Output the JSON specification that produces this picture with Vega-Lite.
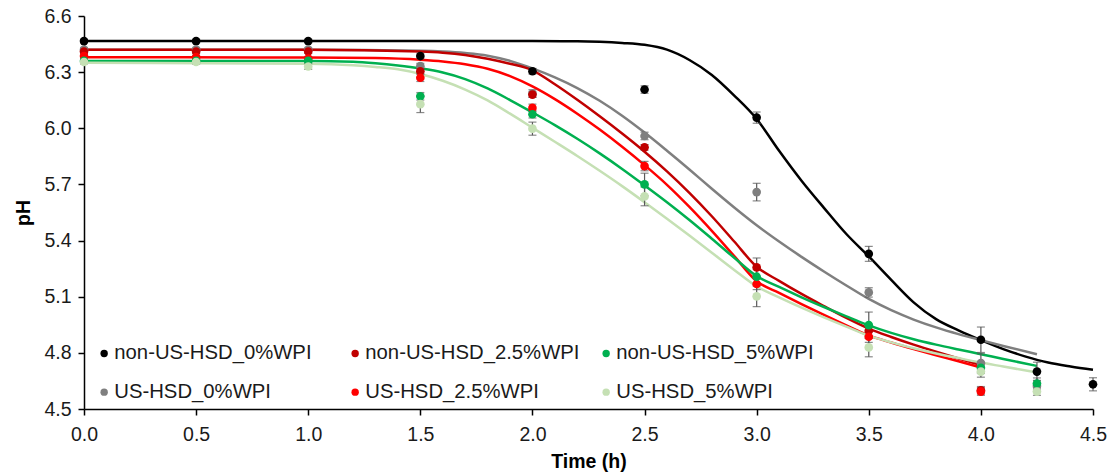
{
  "$schema": "https://vega.github.io/schema/vega-lite/v6.json",
  "width": 1009,
  "height": 393,
  "autosize": {"type": "none"},
  "padding": {"left": 84, "top": 16, "right": 19, "bottom": 66},
  "config": {
    "view": {"stroke": null},
    "font": "Liberation Sans",
    "axis": {
      "grid": false,
      "domainColor": "#000000",
      "domainWidth": 1.5,
      "tickColor": "#000000",
      "tickWidth": 1.5,
      "tickSize": 6,
      "labelFlush": false,
      "labelFont": "Liberation Sans",
      "labelFontSize": 19.5,
      "labelColor": "#1a1a1a",
      "titleFont": "Liberation Sans",
      "titleFontSize": 19.5,
      "titleFontWeight": "bold",
      "titleColor": "#000000"
    }
  },
  "datasets": {
    "pts": [
      {"series": "non-US-HSD_0%WPI", "t": 0, "ph": 6.466, "err": 0.01},
      {"series": "non-US-HSD_0%WPI", "t": 0.5, "ph": 6.466, "err": 0.01},
      {"series": "non-US-HSD_0%WPI", "t": 1.0, "ph": 6.466, "err": 0.01},
      {"series": "non-US-HSD_0%WPI", "t": 1.5, "ph": 6.386, "err": 0.015},
      {"series": "non-US-HSD_0%WPI", "t": 2.0, "ph": 6.305, "err": 0.015},
      {"series": "non-US-HSD_0%WPI", "t": 2.5, "ph": 6.207, "err": 0.02},
      {"series": "non-US-HSD_0%WPI", "t": 3.0, "ph": 6.057, "err": 0.03},
      {"series": "non-US-HSD_0%WPI", "t": 3.5, "ph": 5.329, "err": 0.04},
      {"series": "non-US-HSD_0%WPI", "t": 4.0, "ph": 4.87, "err": 0.068},
      {"series": "non-US-HSD_0%WPI", "t": 4.25, "ph": 4.70, "err": 0.05},
      {"series": "non-US-HSD_0%WPI", "t": 4.5, "ph": 4.632, "err": 0.035},
      {"series": "US-HSD_0%WPI", "t": 0, "ph": 6.42, "err": 0.01},
      {"series": "US-HSD_0%WPI", "t": 0.5, "ph": 6.42, "err": 0.01},
      {"series": "US-HSD_0%WPI", "t": 1.0, "ph": 6.42, "err": 0.01},
      {"series": "US-HSD_0%WPI", "t": 1.5, "ph": 6.332, "err": 0.015},
      {"series": "US-HSD_0%WPI", "t": 2.0, "ph": 6.186, "err": 0.02},
      {"series": "US-HSD_0%WPI", "t": 2.5, "ph": 5.959, "err": 0.02},
      {"series": "US-HSD_0%WPI", "t": 3.0, "ph": 5.659, "err": 0.047},
      {"series": "US-HSD_0%WPI", "t": 3.5, "ph": 5.123, "err": 0.025},
      {"series": "US-HSD_0%WPI", "t": 4.0, "ph": 4.745, "err": 0.05},
      {"series": "US-HSD_0%WPI", "t": 4.25, "ph": 4.623, "err": 0.03},
      {"series": "non-US-HSD_2.5%WPI", "t": 0, "ph": 6.41, "err": 0.01},
      {"series": "non-US-HSD_2.5%WPI", "t": 0.5, "ph": 6.41, "err": 0.01},
      {"series": "non-US-HSD_2.5%WPI", "t": 1.0, "ph": 6.41, "err": 0.01},
      {"series": "non-US-HSD_2.5%WPI", "t": 1.5, "ph": 6.305, "err": 0.015},
      {"series": "non-US-HSD_2.5%WPI", "t": 2.0, "ph": 6.18, "err": 0.015},
      {"series": "non-US-HSD_2.5%WPI", "t": 2.5, "ph": 5.898, "err": 0.015},
      {"series": "non-US-HSD_2.5%WPI", "t": 3.0, "ph": 5.257, "err": 0.05},
      {"series": "non-US-HSD_2.5%WPI", "t": 3.5, "ph": 4.918, "err": 0.03},
      {"series": "non-US-HSD_2.5%WPI", "t": 4.0, "ph": 4.60, "err": 0.02},
      {"series": "US-HSD_2.5%WPI", "t": 0, "ph": 6.386, "err": 0.01},
      {"series": "US-HSD_2.5%WPI", "t": 0.5, "ph": 6.38, "err": 0.01},
      {"series": "US-HSD_2.5%WPI", "t": 1.0, "ph": 6.373, "err": 0.01},
      {"series": "US-HSD_2.5%WPI", "t": 1.5, "ph": 6.27, "err": 0.02},
      {"series": "US-HSD_2.5%WPI", "t": 2.0, "ph": 6.109, "err": 0.02},
      {"series": "US-HSD_2.5%WPI", "t": 2.5, "ph": 5.798, "err": 0.025},
      {"series": "US-HSD_2.5%WPI", "t": 3.0, "ph": 5.168, "err": 0.03},
      {"series": "US-HSD_2.5%WPI", "t": 3.5, "ph": 4.886, "err": 0.03},
      {"series": "US-HSD_2.5%WPI", "t": 4.0, "ph": 4.593, "err": 0.02},
      {"series": "non-US-HSD_5%WPI", "t": 0, "ph": 6.36, "err": 0.01},
      {"series": "non-US-HSD_5%WPI", "t": 0.5, "ph": 6.36, "err": 0.01},
      {"series": "non-US-HSD_5%WPI", "t": 1.0, "ph": 6.36, "err": 0.01},
      {"series": "non-US-HSD_5%WPI", "t": 1.5, "ph": 6.171, "err": 0.02},
      {"series": "non-US-HSD_5%WPI", "t": 2.0, "ph": 6.075, "err": 0.02},
      {"series": "non-US-HSD_5%WPI", "t": 2.5, "ph": 5.70, "err": 0.06},
      {"series": "non-US-HSD_5%WPI", "t": 3.0, "ph": 5.207, "err": 0.04},
      {"series": "non-US-HSD_5%WPI", "t": 3.5, "ph": 4.948, "err": 0.07},
      {"series": "non-US-HSD_5%WPI", "t": 4.0, "ph": 4.72, "err": 0.03},
      {"series": "non-US-HSD_5%WPI", "t": 4.25, "ph": 4.636, "err": 0.03},
      {"series": "US-HSD_5%WPI", "t": 0, "ph": 6.354, "err": 0.01},
      {"series": "US-HSD_5%WPI", "t": 0.5, "ph": 6.354, "err": 0.01},
      {"series": "US-HSD_5%WPI", "t": 1.0, "ph": 6.33, "err": 0.015},
      {"series": "US-HSD_5%WPI", "t": 1.5, "ph": 6.129, "err": 0.045},
      {"series": "US-HSD_5%WPI", "t": 2.0, "ph": 5.998, "err": 0.035},
      {"series": "US-HSD_5%WPI", "t": 2.5, "ph": 5.636, "err": 0.05},
      {"series": "US-HSD_5%WPI", "t": 3.0, "ph": 5.102, "err": 0.055},
      {"series": "US-HSD_5%WPI", "t": 3.5, "ph": 4.829, "err": 0.05},
      {"series": "US-HSD_5%WPI", "t": 4.0, "ph": 4.70, "err": 0.03},
      {"series": "US-HSD_5%WPI", "t": 4.25, "ph": 4.593, "err": 0.02}
    ],
    "fit": [
      {"series": "non-US-HSD_0%WPI", "t": 0, "ph": 6.466},
      {"series": "non-US-HSD_0%WPI", "t": 1.0, "ph": 6.466},
      {"series": "non-US-HSD_0%WPI", "t": 2.0, "ph": 6.466},
      {"series": "non-US-HSD_0%WPI", "t": 2.2, "ph": 6.465},
      {"series": "non-US-HSD_0%WPI", "t": 2.3, "ph": 6.462},
      {"series": "non-US-HSD_0%WPI", "t": 2.4, "ph": 6.456},
      {"series": "non-US-HSD_0%WPI", "t": 2.5, "ph": 6.446},
      {"series": "non-US-HSD_0%WPI", "t": 2.6, "ph": 6.42},
      {"series": "non-US-HSD_0%WPI", "t": 2.7, "ph": 6.365},
      {"series": "non-US-HSD_0%WPI", "t": 2.8, "ph": 6.285},
      {"series": "non-US-HSD_0%WPI", "t": 2.9, "ph": 6.175},
      {"series": "non-US-HSD_0%WPI", "t": 3.0, "ph": 6.05},
      {"series": "non-US-HSD_0%WPI", "t": 3.1, "ph": 5.88},
      {"series": "non-US-HSD_0%WPI", "t": 3.2, "ph": 5.72},
      {"series": "non-US-HSD_0%WPI", "t": 3.3, "ph": 5.575},
      {"series": "non-US-HSD_0%WPI", "t": 3.4, "ph": 5.435},
      {"series": "non-US-HSD_0%WPI", "t": 3.5, "ph": 5.315},
      {"series": "non-US-HSD_0%WPI", "t": 3.6, "ph": 5.19},
      {"series": "non-US-HSD_0%WPI", "t": 3.7, "ph": 5.07},
      {"series": "non-US-HSD_0%WPI", "t": 3.8, "ph": 4.98},
      {"series": "non-US-HSD_0%WPI", "t": 3.9, "ph": 4.92},
      {"series": "non-US-HSD_0%WPI", "t": 4.0, "ph": 4.868},
      {"series": "non-US-HSD_0%WPI", "t": 4.1, "ph": 4.82},
      {"series": "non-US-HSD_0%WPI", "t": 4.2, "ph": 4.78},
      {"series": "non-US-HSD_0%WPI", "t": 4.3, "ph": 4.748},
      {"series": "non-US-HSD_0%WPI", "t": 4.4, "ph": 4.727},
      {"series": "non-US-HSD_0%WPI", "t": 4.5, "ph": 4.71},
      {"series": "US-HSD_0%WPI", "t": 0, "ph": 6.42},
      {"series": "US-HSD_0%WPI", "t": 1.0, "ph": 6.42},
      {"series": "US-HSD_0%WPI", "t": 1.5, "ph": 6.414},
      {"series": "US-HSD_0%WPI", "t": 1.6, "ph": 6.41},
      {"series": "US-HSD_0%WPI", "t": 1.7, "ph": 6.402},
      {"series": "US-HSD_0%WPI", "t": 1.8, "ph": 6.388},
      {"series": "US-HSD_0%WPI", "t": 1.9, "ph": 6.36},
      {"series": "US-HSD_0%WPI", "t": 2.0, "ph": 6.32},
      {"series": "US-HSD_0%WPI", "t": 2.1, "ph": 6.272},
      {"series": "US-HSD_0%WPI", "t": 2.2, "ph": 6.215},
      {"series": "US-HSD_0%WPI", "t": 2.3, "ph": 6.147},
      {"series": "US-HSD_0%WPI", "t": 2.4, "ph": 6.067},
      {"series": "US-HSD_0%WPI", "t": 2.5, "ph": 5.977},
      {"series": "US-HSD_0%WPI", "t": 2.6, "ph": 5.88},
      {"series": "US-HSD_0%WPI", "t": 2.7, "ph": 5.78},
      {"series": "US-HSD_0%WPI", "t": 2.8, "ph": 5.677},
      {"series": "US-HSD_0%WPI", "t": 2.9, "ph": 5.577},
      {"series": "US-HSD_0%WPI", "t": 3.0, "ph": 5.482},
      {"series": "US-HSD_0%WPI", "t": 3.1, "ph": 5.395},
      {"series": "US-HSD_0%WPI", "t": 3.2, "ph": 5.313},
      {"series": "US-HSD_0%WPI", "t": 3.3, "ph": 5.235},
      {"series": "US-HSD_0%WPI", "t": 3.4, "ph": 5.16},
      {"series": "US-HSD_0%WPI", "t": 3.5, "ph": 5.088},
      {"series": "US-HSD_0%WPI", "t": 3.6, "ph": 5.028},
      {"series": "US-HSD_0%WPI", "t": 3.7, "ph": 4.978},
      {"series": "US-HSD_0%WPI", "t": 3.8, "ph": 4.936},
      {"series": "US-HSD_0%WPI", "t": 3.9, "ph": 4.90},
      {"series": "US-HSD_0%WPI", "t": 4.0, "ph": 4.868},
      {"series": "US-HSD_0%WPI", "t": 4.1, "ph": 4.837},
      {"series": "US-HSD_0%WPI", "t": 4.25, "ph": 4.793},
      {"series": "non-US-HSD_2.5%WPI", "t": 0, "ph": 6.42},
      {"series": "non-US-HSD_2.5%WPI", "t": 1.0, "ph": 6.42},
      {"series": "non-US-HSD_2.5%WPI", "t": 1.5, "ph": 6.41},
      {"series": "non-US-HSD_2.5%WPI", "t": 1.6, "ph": 6.404},
      {"series": "non-US-HSD_2.5%WPI", "t": 1.7, "ph": 6.392},
      {"series": "non-US-HSD_2.5%WPI", "t": 1.8, "ph": 6.372},
      {"series": "non-US-HSD_2.5%WPI", "t": 1.9, "ph": 6.345},
      {"series": "non-US-HSD_2.5%WPI", "t": 2.0, "ph": 6.31},
      {"series": "non-US-HSD_2.5%WPI", "t": 2.1, "ph": 6.235},
      {"series": "non-US-HSD_2.5%WPI", "t": 2.2, "ph": 6.152},
      {"series": "non-US-HSD_2.5%WPI", "t": 2.3, "ph": 6.064},
      {"series": "non-US-HSD_2.5%WPI", "t": 2.4, "ph": 5.972},
      {"series": "non-US-HSD_2.5%WPI", "t": 2.5, "ph": 5.875},
      {"series": "non-US-HSD_2.5%WPI", "t": 2.6, "ph": 5.77},
      {"series": "non-US-HSD_2.5%WPI", "t": 2.7, "ph": 5.655},
      {"series": "non-US-HSD_2.5%WPI", "t": 2.8, "ph": 5.53},
      {"series": "non-US-HSD_2.5%WPI", "t": 2.9, "ph": 5.395},
      {"series": "non-US-HSD_2.5%WPI", "t": 3.0, "ph": 5.26},
      {"series": "non-US-HSD_2.5%WPI", "t": 3.1, "ph": 5.185},
      {"series": "non-US-HSD_2.5%WPI", "t": 3.2, "ph": 5.115},
      {"series": "non-US-HSD_2.5%WPI", "t": 3.3, "ph": 5.05},
      {"series": "non-US-HSD_2.5%WPI", "t": 3.4, "ph": 4.987},
      {"series": "non-US-HSD_2.5%WPI", "t": 3.5, "ph": 4.93},
      {"series": "non-US-HSD_2.5%WPI", "t": 3.6, "ph": 4.885},
      {"series": "non-US-HSD_2.5%WPI", "t": 3.7, "ph": 4.844},
      {"series": "non-US-HSD_2.5%WPI", "t": 3.8, "ph": 4.806},
      {"series": "non-US-HSD_2.5%WPI", "t": 3.9, "ph": 4.77},
      {"series": "non-US-HSD_2.5%WPI", "t": 4.0, "ph": 4.735},
      {"series": "US-HSD_2.5%WPI", "t": 0, "ph": 6.38},
      {"series": "US-HSD_2.5%WPI", "t": 1.0, "ph": 6.378},
      {"series": "US-HSD_2.5%WPI", "t": 1.3, "ph": 6.375},
      {"series": "US-HSD_2.5%WPI", "t": 1.5, "ph": 6.366},
      {"series": "US-HSD_2.5%WPI", "t": 1.6, "ph": 6.357},
      {"series": "US-HSD_2.5%WPI", "t": 1.7, "ph": 6.342},
      {"series": "US-HSD_2.5%WPI", "t": 1.8, "ph": 6.318},
      {"series": "US-HSD_2.5%WPI", "t": 1.9, "ph": 6.279},
      {"series": "US-HSD_2.5%WPI", "t": 2.0, "ph": 6.224},
      {"series": "US-HSD_2.5%WPI", "t": 2.1, "ph": 6.156},
      {"series": "US-HSD_2.5%WPI", "t": 2.2, "ph": 6.078},
      {"series": "US-HSD_2.5%WPI", "t": 2.3, "ph": 5.993},
      {"series": "US-HSD_2.5%WPI", "t": 2.4, "ph": 5.901},
      {"series": "US-HSD_2.5%WPI", "t": 2.5, "ph": 5.803},
      {"series": "US-HSD_2.5%WPI", "t": 2.6, "ph": 5.698},
      {"series": "US-HSD_2.5%WPI", "t": 2.7, "ph": 5.58},
      {"series": "US-HSD_2.5%WPI", "t": 2.8, "ph": 5.452},
      {"series": "US-HSD_2.5%WPI", "t": 2.9, "ph": 5.317},
      {"series": "US-HSD_2.5%WPI", "t": 3.0, "ph": 5.183},
      {"series": "US-HSD_2.5%WPI", "t": 3.1, "ph": 5.121},
      {"series": "US-HSD_2.5%WPI", "t": 3.2, "ph": 5.061},
      {"series": "US-HSD_2.5%WPI", "t": 3.3, "ph": 5.003},
      {"series": "US-HSD_2.5%WPI", "t": 3.4, "ph": 4.947},
      {"series": "US-HSD_2.5%WPI", "t": 3.5, "ph": 4.893},
      {"series": "US-HSD_2.5%WPI", "t": 3.6, "ph": 4.855},
      {"series": "US-HSD_2.5%WPI", "t": 3.7, "ph": 4.82},
      {"series": "US-HSD_2.5%WPI", "t": 3.8, "ph": 4.787},
      {"series": "US-HSD_2.5%WPI", "t": 3.9, "ph": 4.755},
      {"series": "US-HSD_2.5%WPI", "t": 4.0, "ph": 4.722},
      {"series": "non-US-HSD_5%WPI", "t": 0, "ph": 6.36},
      {"series": "non-US-HSD_5%WPI", "t": 1.0, "ph": 6.36},
      {"series": "non-US-HSD_5%WPI", "t": 1.2, "ph": 6.356},
      {"series": "non-US-HSD_5%WPI", "t": 1.3, "ph": 6.348},
      {"series": "non-US-HSD_5%WPI", "t": 1.4, "ph": 6.336},
      {"series": "non-US-HSD_5%WPI", "t": 1.5, "ph": 6.32},
      {"series": "non-US-HSD_5%WPI", "t": 1.6, "ph": 6.298},
      {"series": "non-US-HSD_5%WPI", "t": 1.7, "ph": 6.263},
      {"series": "non-US-HSD_5%WPI", "t": 1.8, "ph": 6.213},
      {"series": "non-US-HSD_5%WPI", "t": 1.9, "ph": 6.151},
      {"series": "non-US-HSD_5%WPI", "t": 2.0, "ph": 6.085},
      {"series": "non-US-HSD_5%WPI", "t": 2.1, "ph": 6.017},
      {"series": "non-US-HSD_5%WPI", "t": 2.2, "ph": 5.944},
      {"series": "non-US-HSD_5%WPI", "t": 2.3, "ph": 5.866},
      {"series": "non-US-HSD_5%WPI", "t": 2.4, "ph": 5.783},
      {"series": "non-US-HSD_5%WPI", "t": 2.5, "ph": 5.695},
      {"series": "non-US-HSD_5%WPI", "t": 2.6, "ph": 5.605},
      {"series": "non-US-HSD_5%WPI", "t": 2.7, "ph": 5.51},
      {"series": "non-US-HSD_5%WPI", "t": 2.8, "ph": 5.41},
      {"series": "non-US-HSD_5%WPI", "t": 2.9, "ph": 5.308},
      {"series": "non-US-HSD_5%WPI", "t": 3.0, "ph": 5.21},
      {"series": "non-US-HSD_5%WPI", "t": 3.1, "ph": 5.152},
      {"series": "non-US-HSD_5%WPI", "t": 3.2, "ph": 5.097},
      {"series": "non-US-HSD_5%WPI", "t": 3.3, "ph": 5.045},
      {"series": "non-US-HSD_5%WPI", "t": 3.4, "ph": 4.995},
      {"series": "non-US-HSD_5%WPI", "t": 3.5, "ph": 4.947},
      {"series": "non-US-HSD_5%WPI", "t": 3.6, "ph": 4.907},
      {"series": "non-US-HSD_5%WPI", "t": 3.7, "ph": 4.873},
      {"series": "non-US-HSD_5%WPI", "t": 3.8, "ph": 4.844},
      {"series": "non-US-HSD_5%WPI", "t": 3.9, "ph": 4.818},
      {"series": "non-US-HSD_5%WPI", "t": 4.0, "ph": 4.793},
      {"series": "non-US-HSD_5%WPI", "t": 4.1, "ph": 4.767},
      {"series": "non-US-HSD_5%WPI", "t": 4.25, "ph": 4.73},
      {"series": "US-HSD_5%WPI", "t": 0, "ph": 6.35},
      {"series": "US-HSD_5%WPI", "t": 1.0, "ph": 6.345},
      {"series": "US-HSD_5%WPI", "t": 1.2, "ph": 6.337},
      {"series": "US-HSD_5%WPI", "t": 1.3, "ph": 6.328},
      {"series": "US-HSD_5%WPI", "t": 1.4, "ph": 6.315},
      {"series": "US-HSD_5%WPI", "t": 1.5, "ph": 6.29},
      {"series": "US-HSD_5%WPI", "t": 1.6, "ph": 6.254},
      {"series": "US-HSD_5%WPI", "t": 1.7, "ph": 6.207},
      {"series": "US-HSD_5%WPI", "t": 1.8, "ph": 6.149},
      {"series": "US-HSD_5%WPI", "t": 1.9, "ph": 6.078},
      {"series": "US-HSD_5%WPI", "t": 2.0, "ph": 6.003},
      {"series": "US-HSD_5%WPI", "t": 2.1, "ph": 5.928},
      {"series": "US-HSD_5%WPI", "t": 2.2, "ph": 5.852},
      {"series": "US-HSD_5%WPI", "t": 2.3, "ph": 5.773},
      {"series": "US-HSD_5%WPI", "t": 2.4, "ph": 5.691},
      {"series": "US-HSD_5%WPI", "t": 2.5, "ph": 5.605},
      {"series": "US-HSD_5%WPI", "t": 2.6, "ph": 5.517},
      {"series": "US-HSD_5%WPI", "t": 2.7, "ph": 5.427},
      {"series": "US-HSD_5%WPI", "t": 2.8, "ph": 5.335},
      {"series": "US-HSD_5%WPI", "t": 2.9, "ph": 5.243},
      {"series": "US-HSD_5%WPI", "t": 3.0, "ph": 5.155},
      {"series": "US-HSD_5%WPI", "t": 3.1, "ph": 5.097},
      {"series": "US-HSD_5%WPI", "t": 3.2, "ph": 5.042},
      {"series": "US-HSD_5%WPI", "t": 3.3, "ph": 4.99},
      {"series": "US-HSD_5%WPI", "t": 3.4, "ph": 4.94},
      {"series": "US-HSD_5%WPI", "t": 3.5, "ph": 4.892},
      {"series": "US-HSD_5%WPI", "t": 3.6, "ph": 4.856},
      {"series": "US-HSD_5%WPI", "t": 3.7, "ph": 4.825},
      {"series": "US-HSD_5%WPI", "t": 3.8, "ph": 4.797},
      {"series": "US-HSD_5%WPI", "t": 3.9, "ph": 4.772},
      {"series": "US-HSD_5%WPI", "t": 4.0, "ph": 4.748},
      {"series": "US-HSD_5%WPI", "t": 4.1, "ph": 4.727},
      {"series": "US-HSD_5%WPI", "t": 4.25, "ph": 4.695}
    ]
  },
  "resolve": {"scale": {"color": "independent"}},
  "layer": [
    {
      "data": {"name": "fit"},
      "mark": {"type": "line", "strokeWidth": 2.5, "interpolate": "monotone"},
      "encoding": {
        "x": {"field": "t", "type": "quantitative", "scale": {"domain": [0, 4.5], "nice": false},
          "axis": {"values": [0, 0.5, 1, 1.5, 2, 2.5, 3, 3.5, 4, 4.5], "format": ".1f", "labelPadding": 10, "titlePadding": 9}, "title": "Time (h)"},
        "y": {"field": "ph", "type": "quantitative", "scale": {"domain": [4.5, 6.6], "nice": false, "zero": false},
          "axis": {"values": [4.5, 4.8, 5.1, 5.4, 5.7, 6.0, 6.3, 6.6], "format": ".1f", "labelPadding": 7, "titlePadding": 10}, "title": "pH"},
        "color": {"field": "series", "type": "nominal",
          "scale": {"domain": ["non-US-HSD_0%WPI", "US-HSD_0%WPI", "non-US-HSD_2.5%WPI", "US-HSD_2.5%WPI", "non-US-HSD_5%WPI", "US-HSD_5%WPI"],
                    "range": ["#000000", "#7f7f7f", "#c00000", "#ff0000", "#00b050", "#c5e0b4"]},
          "legend": null}
      }
    },
    {
      "data": {"name": "pts"},
      "mark": {"type": "errorbar", "color": "#595959", "thickness": 1.2, "ticks": {"size": 8, "thickness": 1.2, "color": "#595959"}},
      "encoding": {
        "x": {"field": "t", "type": "quantitative", "title": "Time (h)"},
        "y": {"field": "ph", "type": "quantitative", "title": "pH"},
        "yError": {"field": "err"}
      }
    },
    {
      "data": {"name": "pts"},
      "mark": {"type": "point", "filled": true, "size": 75, "opacity": 1},
      "encoding": {
        "x": {"field": "t", "type": "quantitative", "title": "Time (h)"},
        "y": {"field": "ph", "type": "quantitative", "title": "pH"},
        "color": {"field": "series", "type": "nominal",
          "scale": {"domain": ["non-US-HSD_0%WPI", "non-US-HSD_2.5%WPI", "non-US-HSD_5%WPI", "US-HSD_0%WPI", "US-HSD_2.5%WPI", "US-HSD_5%WPI"],
                    "range": ["#000000", "#c00000", "#00b050", "#7f7f7f", "#ff0000", "#c5e0b4"]},
          "legend": {"orient": "none", "legendX": 10, "legendY": 327, "columns": 3, "direction": "horizontal",
            "gridAlign": "all", "columnPadding": 16, "rowPadding": 18, "padding": 0,
            "title": null, "symbolType": "circle", "symbolSize": 55, "symbolStrokeWidth": 0, "symbolOpacity": 1,
            "labelFont": "Liberation Sans", "labelFontSize": 20.3, "labelColor": "#1a1a1a", "labelOffset": 0, "labelLimit": 400}}
      }
    }
  ]
}
